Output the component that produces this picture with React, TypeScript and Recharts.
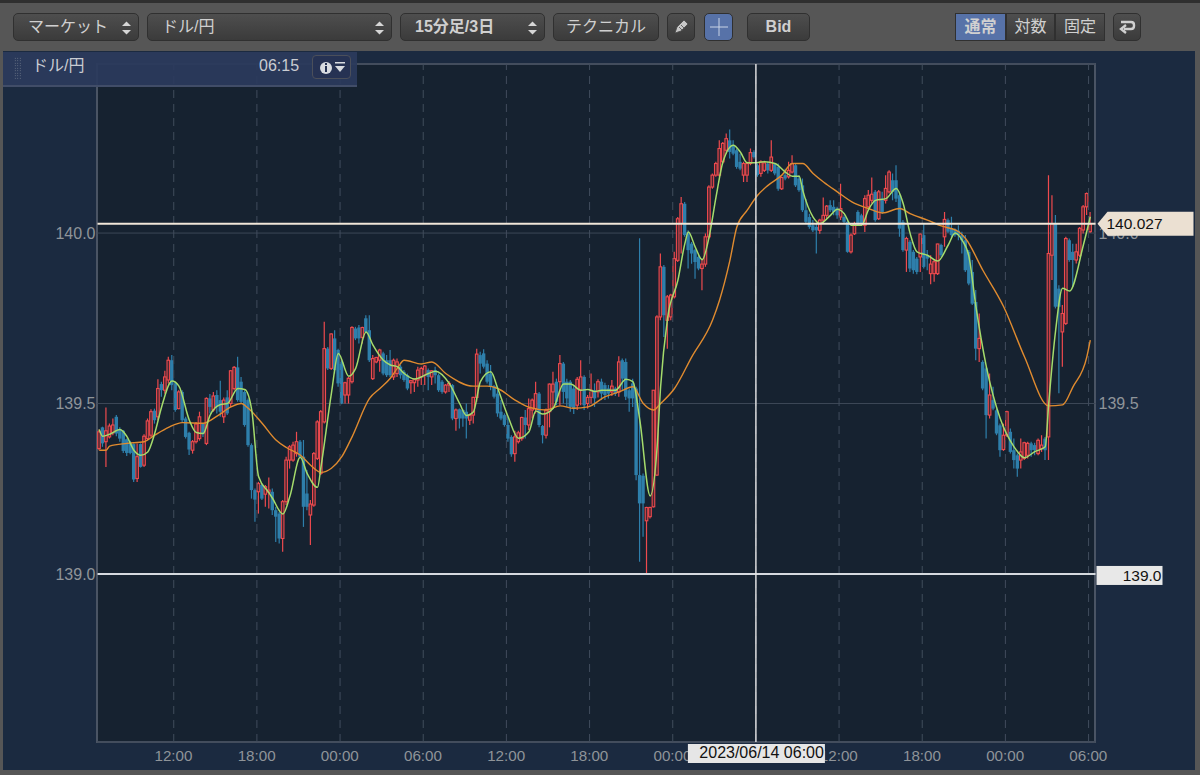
import React from "react";
import {
  ComposedChart,
  Bar,
  Line,
  XAxis,
  YAxis,
  CartesianGrid,
  ReferenceLine,
} from "recharts";

const opens = [
  139.368, 139.430, 139.388, 139.402, 139.414, 139.461, 139.424, 139.420, 139.395, 139.385,
  139.381, 139.280, 139.381, 139.319, 139.397, 139.407, 139.479, 139.461, 139.557, 139.539,
  139.569, 139.627, 139.559, 139.485, 139.534, 139.456, 139.414, 139.363, 139.388, 139.397,
  139.440, 139.383, 139.515, 139.481, 139.525, 139.510, 139.461, 139.518, 139.500, 139.544,
  139.606, 139.564, 139.534, 139.510, 139.378, 139.246, 139.241, 139.261, 139.234, 139.240,
  139.241, 139.187, 139.177, 139.104, 139.212, 139.334, 139.334, 139.353, 139.388, 139.344,
  139.236, 139.173, 139.202, 139.339, 139.295, 139.446, 139.661, 139.603, 139.691, 139.657,
  139.622, 139.525, 139.525, 139.564, 139.720, 139.723, 139.694, 139.750, 139.715, 139.573,
  139.622, 139.627, 139.647, 139.627, 139.627, 139.578, 139.588, 139.608, 139.593, 139.583,
  139.561, 139.561, 139.569, 139.578, 139.583, 139.598, 139.578, 139.598, 139.583, 139.564,
  139.534, 139.554, 139.554, 139.456, 139.483, 139.481, 139.476, 139.451, 139.466, 139.518,
  139.642, 139.647, 139.617, 139.588, 139.551, 139.529, 139.476, 139.466, 139.437, 139.402,
  139.353, 139.388, 139.397, 139.459, 139.437, 139.481, 139.485, 139.529, 139.434, 139.407,
  139.476, 139.534, 139.564, 139.564, 139.617, 139.564, 139.564, 139.544, 139.495, 139.539,
  139.578, 139.500, 139.518, 139.539, 139.534, 139.564, 139.554, 139.544, 139.534, 139.544,
  139.534, 139.627, 139.622, 139.539, 139.559, 139.544, 139.290, 139.288, 139.156, 139.168,
  139.197, 139.290, 139.754, 139.901, 139.744, 139.754, 139.813, 139.920, 140.028, 140.086,
  140.003, 139.969, 139.950, 139.930, 139.896, 139.909, 139.989, 140.135, 140.170, 140.170,
  140.209, 140.243, 140.272, 140.258, 140.243, 140.209, 140.170, 140.170, 140.204, 140.238,
  140.199, 140.175, 140.184, 140.204, 140.184, 140.202, 140.194, 140.130, 140.170, 140.165,
  140.179, 140.199, 140.160, 140.140, 140.067, 140.047, 140.023, 140.018, 140.008, 140.038,
  140.052, 140.082, 140.077, 140.072, 140.047, 140.047, 140.033, 139.945, 139.998, 140.062,
  140.052, 140.023, 140.077, 140.096, 140.121, 140.042, 140.101, 140.096, 140.121, 140.155,
  140.155, 140.111, 140.033, 139.950, 139.974, 139.945, 139.925, 139.930, 139.994, 139.935,
  139.881, 139.881, 139.881, 139.965, 139.989, 140.038, 140.014, 140.011, 140.007, 139.994,
  139.979, 139.945, 139.886, 139.798, 139.661, 139.622, 139.603, 139.466, 139.510, 139.480,
  139.436, 139.365, 139.407, 139.417, 139.363, 139.348, 139.334, 139.339, 139.348, 139.383,
  139.378, 139.353, 139.368, 139.397, 139.402, 139.935, 140.028, 139.837, 139.710, 139.735,
  139.979, 139.945, 139.921, 139.935, 140.009, 140.077, 140.004,
];

const highs = [
  139.424, 139.432, 139.488, 139.441, 139.456, 139.466, 139.430, 139.422, 139.397, 139.391,
  139.383, 139.383, 139.383, 139.410, 139.456, 139.483, 139.485, 139.571, 139.564, 139.596,
  139.637, 139.642, 139.564, 139.539, 139.539, 139.461, 139.417, 139.393, 139.446, 139.476,
  139.443, 139.518, 139.528, 139.534, 139.539, 139.567, 139.518, 139.539, 139.598, 139.610,
  139.637, 139.578, 139.539, 139.515, 139.383, 139.251, 139.270, 139.265, 139.261, 139.283,
  139.251, 139.197, 139.182, 139.217, 139.344, 139.378, 139.388, 139.417, 139.393, 139.393,
  139.305, 139.217, 139.358, 139.451, 139.481, 139.740, 139.666, 139.706, 139.715, 139.661,
  139.627, 139.564, 139.578, 139.727, 139.725, 139.730, 139.725, 139.759, 139.759, 139.642,
  139.637, 139.661, 139.652, 139.642, 139.657, 139.632, 139.632, 139.613, 139.598, 139.588,
  139.569, 139.573, 139.608, 139.608, 139.613, 139.603, 139.598, 139.608, 139.588, 139.569,
  139.557, 139.566, 139.557, 139.485, 139.485, 139.483, 139.500, 139.471, 139.520, 139.661,
  139.652, 139.659, 139.627, 139.613, 139.554, 139.539, 139.510, 139.471, 139.461, 139.407,
  139.420, 139.420, 139.461, 139.481, 139.515, 139.515, 139.564, 139.534, 139.437, 139.485,
  139.559, 139.593, 139.573, 139.642, 139.622, 139.573, 139.569, 139.554, 139.578, 139.627,
  139.583, 139.525, 139.588, 139.559, 139.571, 139.573, 139.561, 139.554, 139.569, 139.549,
  139.639, 139.632, 139.632, 139.544, 139.573, 139.549, 139.985, 139.295, 139.197, 139.197,
  139.539, 139.759, 139.940, 139.906, 139.818, 139.822, 139.945, 140.047, 140.106, 140.091,
  140.008, 139.974, 139.954, 139.935, 139.925, 139.999, 140.140, 140.175, 140.209, 140.272,
  140.267, 140.292, 140.304, 140.272, 140.248, 140.233, 140.209, 140.209, 140.248, 140.243,
  140.204, 140.214, 140.212, 140.209, 140.272, 140.204, 140.204, 140.165, 140.189, 140.209,
  140.228, 140.204, 140.170, 140.160, 140.101, 140.057, 140.038, 140.028, 140.042, 140.104,
  140.082, 140.096, 140.096, 140.077, 140.145, 140.052, 140.042, 139.999, 140.033, 140.067,
  140.057, 140.111, 140.126, 140.163, 140.126, 140.126, 140.121, 140.170, 140.184, 140.175,
  140.199, 140.121, 140.038, 139.989, 139.979, 139.950, 139.930, 139.999, 140.028, 139.950,
  139.935, 139.921, 139.969, 139.969, 140.062, 140.043, 140.048, 140.014, 140.023, 140.004,
  139.994, 139.950, 139.921, 139.833, 139.764, 139.627, 139.608, 139.588, 139.549, 139.485,
  139.441, 139.441, 139.479, 139.427, 139.397, 139.353, 139.397, 139.388, 139.388, 139.388,
  139.385, 139.397, 139.407, 139.402, 140.170, 140.111, 140.053, 139.847, 139.789, 139.989,
  139.984, 139.969, 139.969, 140.018, 140.082, 140.119, 140.062,
];

const lows = [
  139.363, 139.373, 139.314, 139.397, 139.407, 139.404, 139.388, 139.355, 139.346, 139.351,
  139.270, 139.270, 139.312, 139.314, 139.393, 139.402, 139.441, 139.451, 139.520, 139.529,
  139.559, 139.539, 139.476, 139.483, 139.446, 139.397, 139.349, 139.353, 139.383, 139.391,
  139.402, 139.378, 139.471, 139.476, 139.471, 139.461, 139.443, 139.466, 139.490, 139.539,
  139.505, 139.500, 139.432, 139.373, 139.221, 139.153, 139.177, 139.217, 139.197, 139.192,
  139.173, 139.094, 139.089, 139.065, 139.202, 139.309, 139.329, 139.344, 139.339, 139.138,
  139.187, 139.085, 139.197, 139.334, 139.290, 139.441, 139.598, 139.598, 139.588, 139.549,
  139.498, 139.500, 139.500, 139.559, 139.686, 139.676, 139.676, 139.706, 139.622, 139.569,
  139.618, 139.593, 139.583, 139.578, 139.578, 139.569, 139.578, 139.573, 139.564, 139.539,
  139.529, 139.534, 139.549, 139.554, 139.554, 139.539, 139.554, 139.559, 139.534, 139.529,
  139.529, 139.534, 139.451, 139.420, 139.427, 139.432, 139.397, 139.437, 139.441, 139.505,
  139.588, 139.603, 139.559, 139.539, 139.515, 139.461, 139.451, 139.432, 139.388, 139.344,
  139.329, 139.383, 139.391, 139.397, 139.422, 139.456, 139.471, 139.430, 139.383, 139.397,
  139.430, 139.485, 139.495, 139.495, 139.500, 139.490, 139.476, 139.469, 139.481, 139.495,
  139.481, 139.485, 139.500, 139.490, 139.518, 139.510, 139.510, 139.515, 139.522, 139.522,
  139.520, 139.539, 139.510, 139.476, 139.490, 139.275, 139.036, 139.109, 139.000, 139.163,
  139.195, 139.287, 139.744, 139.695, 139.661, 139.744, 139.808, 139.915, 139.940, 139.989,
  139.896, 139.910, 139.866, 139.891, 139.832, 139.901, 139.984, 140.130, 140.165, 140.165,
  140.204, 140.233, 140.219, 140.228, 140.189, 140.184, 140.150, 140.150, 140.199, 140.219,
  140.165, 140.165, 140.179, 140.175, 140.179, 140.170, 140.124, 140.126, 140.155, 140.160,
  140.175, 140.135, 140.121, 140.062, 140.028, 140.013, 140.003, 139.940, 139.998, 140.028,
  140.042, 140.062, 140.052, 140.042, 140.038, 140.028, 139.942, 139.940, 139.994, 140.023,
  140.023, 140.003, 140.067, 140.087, 140.033, 140.038, 140.057, 140.087, 140.116, 140.096,
  140.091, 139.989, 139.945, 139.886, 139.886, 139.881, 139.879, 139.886, 139.896, 139.891,
  139.850, 139.857, 139.877, 139.930, 139.960, 140.000, 139.984, 139.989, 139.979, 139.940,
  139.886, 139.847, 139.789, 139.627, 139.622, 139.539, 139.397, 139.456, 139.480, 139.407,
  139.344, 139.361, 139.402, 139.353, 139.309, 139.285, 139.309, 139.334, 139.339, 139.344,
  139.348, 139.348, 139.358, 139.334, 139.334, 139.862, 139.779, 139.530, 139.608, 139.730,
  139.916, 139.842, 139.911, 139.930, 139.999, 140.053, 140.001,
];

const closes = [
  139.417, 139.383, 139.420, 139.434, 139.437, 139.412, 139.397, 139.361, 139.355, 139.355,
  139.277, 139.344, 139.314, 139.404, 139.449, 139.476, 139.451, 139.544, 139.539, 139.578,
  139.627, 139.554, 139.481, 139.534, 139.451, 139.402, 139.365, 139.388, 139.440, 139.461,
  139.410, 139.515, 139.490, 139.522, 139.490, 139.476, 139.510, 139.471, 139.596, 139.606,
  139.510, 139.505, 139.437, 139.378, 139.246, 139.218, 139.265, 139.221, 139.256, 139.246,
  139.187, 139.168, 139.104, 139.212, 139.334, 139.373, 139.378, 139.388, 139.344, 139.197,
  139.197, 139.205, 139.353, 139.446, 139.476, 139.661, 139.603, 139.704, 139.598, 139.559,
  139.500, 139.561, 139.574, 139.723, 139.691, 139.691, 139.723, 139.710, 139.627, 139.632,
  139.635, 139.657, 139.588, 139.583, 139.583, 139.627, 139.622, 139.583, 139.569, 139.544,
  139.567, 139.571, 139.598, 139.603, 139.610, 139.578, 139.596, 139.583, 139.539, 139.534,
  139.554, 139.559, 139.456, 139.481, 139.456, 139.456, 139.456, 139.466, 139.518, 139.645,
  139.617, 139.608, 139.564, 139.549, 139.520, 139.471, 139.456, 139.437, 139.397, 139.351,
  139.402, 139.414, 139.459, 139.437, 139.485, 139.510, 139.529, 139.437, 139.407, 139.481,
  139.557, 139.557, 139.505, 139.617, 139.534, 139.515, 139.490, 139.485, 139.571, 139.578,
  139.495, 139.518, 139.539, 139.515, 139.564, 139.529, 139.525, 139.529, 139.551, 139.529,
  139.622, 139.573, 139.520, 139.515, 139.515, 139.290, 139.207, 139.207, 139.195, 139.195,
  139.539, 139.754, 139.901, 139.759, 139.813, 139.818, 139.925, 140.042, 140.086, 139.994,
  139.950, 139.940, 139.915, 139.896, 139.909, 139.989, 140.135, 140.170, 140.204, 140.248,
  140.263, 140.277, 140.238, 140.233, 140.194, 140.189, 140.204, 140.204, 140.236, 140.223,
  140.170, 140.209, 140.206, 140.184, 140.223, 140.175, 140.130, 140.163, 140.160, 140.184,
  140.204, 140.140, 140.126, 140.067, 140.033, 140.018, 140.008, 140.008, 140.038, 140.052,
  140.079, 140.067, 140.062, 140.052, 140.072, 140.033, 139.945, 139.994, 140.028, 140.028,
  140.028, 140.101, 140.111, 140.114, 140.038, 140.121, 140.062, 140.131, 140.179, 140.121,
  140.101, 140.013, 139.950, 139.984, 139.896, 139.891, 139.886, 139.997, 139.901, 139.925,
  139.909, 139.916, 139.968, 139.935, 140.040, 140.004, 139.994, 139.994, 139.994, 139.979,
  139.891, 139.852, 139.793, 139.661, 139.691, 139.544, 139.466, 139.525, 139.485, 139.412,
  139.363, 139.407, 139.476, 139.358, 139.334, 139.309, 139.358, 139.385, 139.383, 139.363,
  139.363, 139.392, 139.378, 139.363, 139.940, 140.028, 139.784, 139.784, 139.764, 139.984,
  139.921, 139.921, 139.945, 140.014, 140.077, 140.116, 140.027,
];

// moving averages, read at the points where the curves bend: [candle index, price]
const fastMa = [
  [0, 139.424], [1, 139.404], [3, 139.41], [6, 139.424], [8, 139.403], [10, 139.363], [12, 139.348],
  [14, 139.358], [16, 139.412], [18, 139.49], [21, 139.566], [23, 139.551], [26, 139.451], [28, 139.415],
  [30, 139.412], [32, 139.466], [35, 139.497], [37, 139.5], [40, 139.544], [42, 139.541], [44, 139.481],
  [46, 139.285], [49, 139.238], [50, 139.222], [53, 139.176], [55, 139.227], [58, 139.342], [60, 139.295],
  [63, 139.254], [64, 139.315], [67, 139.53], [69, 139.647], [72, 139.58], [74, 139.603], [77, 139.71],
  [79, 139.671], [82, 139.627], [84, 139.613], [86, 139.608], [88, 139.588], [91, 139.572], [95, 139.588],
  [97, 139.595], [101, 139.559], [104, 139.5], [106, 139.465], [108, 139.476], [110, 139.564], [113, 139.593],
  [115, 139.544], [118, 139.461], [121, 139.398], [124, 139.417], [126, 139.478], [128, 139.469], [131, 139.486],
  [134, 139.557], [136, 139.557], [139, 139.539], [141, 139.541], [143, 139.535], [145, 139.539], [149, 139.539],
  [152, 139.571], [154, 139.564], [156, 139.451], [159, 139.229], [161, 139.373], [162, 139.549], [164, 139.75],
  [167, 139.862], [169, 139.969], [170, 140.003], [172, 139.959], [174, 139.922], [176, 139.989], [178, 140.106],
  [180, 140.209], [183, 140.258], [185, 140.238], [187, 140.206], [189, 140.206], [192, 140.209], [195, 140.204],
  [198, 140.179], [200, 140.167], [202, 140.167], [203, 140.126], [206, 140.047], [208, 140.028], [211, 140.052],
  [213, 140.07], [215, 140.057], [217, 140.023], [220, 140.023], [222, 140.069], [224, 140.096], [227, 140.101],
  [230, 140.131], [232, 140.087], [234, 139.999], [236, 139.945], [239, 139.935], [242, 139.918], [245, 139.965],
  [247, 140.0], [249, 139.979], [251, 139.93], [253, 139.784], [256, 139.608], [260, 139.456], [264, 139.373],
  [267, 139.341], [270, 139.359], [273, 139.373], [274, 139.5], [276, 139.715], [278, 139.838], [280, 139.83],
  [284, 139.965], [286, 140.048],
];

const slowMa = [
  [0, 139.363], [2, 139.363], [3, 139.375], [8, 139.383], [13, 139.388], [16, 139.407], [20, 139.43],
  [24, 139.444], [30, 139.442], [34, 139.463], [38, 139.49], [41, 139.5], [43, 139.486], [47, 139.442],
  [51, 139.393], [54, 139.371], [58, 139.349], [61, 139.319], [64, 139.298], [67, 139.31], [70, 139.344],
  [73, 139.403], [78, 139.515], [81, 139.544], [84, 139.574], [86, 139.603], [88, 139.627], [93, 139.616],
  [96, 139.622], [100, 139.588], [108, 139.551], [112, 139.551], [115, 139.544], [120, 139.51], [124, 139.489],
  [129, 139.481], [133, 139.493], [137, 139.486], [141, 139.49], [146, 139.52], [150, 139.534], [154, 139.549],
  [157, 139.5], [160, 139.481], [162, 139.5], [166, 139.544], [171, 139.637], [177, 139.745], [179, 139.803],
  [182, 139.92], [184, 140.018], [187, 140.067], [190, 140.111], [193, 140.14], [197, 140.17], [200, 140.204],
  [203, 140.204], [206, 140.175], [209, 140.15], [213, 140.121], [218, 140.087], [222, 140.072], [226, 140.059],
  [231, 140.072], [234, 140.057], [239, 140.038], [243, 140.021], [248, 140.004], [250, 139.984], [255, 139.891],
  [261, 139.784], [267, 139.637], [274, 139.493], [278, 139.496], [281, 139.549], [285, 139.637], [286, 139.686],
];

const timeTicks = [
  "06/12 12:00", "06/12 18:00", "06/13 00:00", "06/13 06:00", "06/13 12:00", "06/13 18:00",
  "06/14 00:00", "06/14 06:00", "06/14 12:00", "06/14 18:00", "06/15 00:00", "06/15 06:00",
];
const priceTicks = [139, 139.5, 140];
const priceDomain = [138.507, 140.496];
const lastPrice = 140.027;
const markedPrice = 139;
const crosshairTime = "06/14 06:00";

const pad = (n: number) => String(n).padStart(2, "0");

// 288 slots on the time axis, the last one stays empty
const categories: string[] = [];
for (let i = 0; i < 288; i++) {
  const m = 6 * 60 + 30 + i * 15;
  const day = 12 + Math.floor(m / 1440);
  categories.push(`06/${day} ${pad(Math.floor(m / 60) % 24)}:${pad(m % 60)}`);
}

const fastByIndex = new Map(fastMa.map(([i, v]) => [i, v]));
const slowByIndex = new Map(slowMa.map(([i, v]) => [i, v]));

const chartData = categories.map((name, i) => ({
  name,
  open: opens[i],
  close: closes[i],
  high: highs[i],
  low: lows[i],
  range: i < opens.length ? [lows[i], highs[i]] : null,
  fast: fastByIndex.get(i) ?? null,
  slow: slowByIndex.get(i) ?? null,
}));

const UP = "#ee4a4e";
const DOWN = "#2e7fab";
const TEXT = "#8f9499";
const FONT = "'Liberation Sans', 'Noto Sans CJK JP', sans-serif";

const Candle = (props: any) => {
  const { x, y, width, height, payload } = props;
  if (!payload || payload.range == null || !height) return null;
  const { open, close, high, low } = payload;
  const perUnit = height / (high - low);
  const up = close >= open;
  const color = up ? UP : DOWN;
  const top = y + (high - Math.max(open, close)) * perUnit;
  const bottom = y + (high - Math.min(open, close)) * perUnit;
  const cx = x + width / 2;
  return (
    <g>
      <line x1={cx} x2={cx} y1={y} y2={y + height} stroke={color} strokeWidth={1.2} />
      {up ? (
        <rect x={cx - 1.3} y={top} width={2.6} height={Math.max(bottom - top, 1)} fill="#4a2630" stroke={color} strokeWidth={1.1} />
      ) : (
        <rect x={cx - 1.7} y={top} width={3.4} height={Math.max(bottom - top, 1)} fill={color} />
      )}
    </g>
  );
};

const LastPriceTag = ({ viewBox }: any) => {
  const y = viewBox.y;
  const x = viewBox.x + viewBox.width + 2;
  return (
    <g>
      <polygon
        points={`${x},${y} ${x + 10},${y - 12} ${x + 96},${y - 12} ${x + 96},${y + 12} ${x + 10},${y + 12}`}
        fill="#ebe0d2"
      />
      <text x={x + 9} y={y + 5.5} fontSize={15.5} fill="#111" fontFamily={FONT}>
        {lastPrice.toFixed(3)}
      </text>
    </g>
  );
};

const MarkedPriceTag = ({ viewBox }: any) => {
  const y = viewBox.y;
  const x = viewBox.x + viewBox.width + 1;
  return (
    <g>
      <rect x={x} y={y - 8} width={66} height={19} fill="#e8e8e8" />
      <text x={x + 65} y={y + 7} fontSize={15.5} fill="#111" textAnchor="end" fontFamily={FONT}>
        {markedPrice.toFixed(1)}
      </text>
    </g>
  );
};

const CrosshairTag = ({ viewBox }: any) => {
  const x = viewBox.x;
  const y = viewBox.y + viewBox.height;
  return (
    <g>
      <rect x={x - 68} y={y + 2} width={137} height={19} fill="#e6e6e6" />
      <text x={x + 68} y={y + 16} fontSize={16} fill="#111" textAnchor="end" fontFamily={FONT}>
        2023/06/14 06:00
      </text>
    </g>
  );
};

const Updown = () => (
  <svg width={9} height={16} style={{ position: "absolute", right: 7, top: 6 }}>
    <polygon points="0,6 4.5,1.5 9,6" fill="#d6d6d6" />
    <polygon points="0,10 4.5,14.5 9,10" fill="#d6d6d6" />
  </svg>
);

const Btn = ({ left, width, active, bold, flat, children }: any) => (
  <div
    style={{
      position: "absolute",
      left,
      top: 13,
      width,
      height: 28,
      boxSizing: "border-box",
      border: "1px solid #303030",
      borderRadius: flat ? 0 : 5,
      background: active ? "#5772a8" : "linear-gradient(#4e4e4e, #3b3b3b)",
      color: "#d0d0d0",
      fontSize: 16,
      fontWeight: bold ? "bold" : "normal",
      lineHeight: "26px",
      textAlign: "center",
    }}
  >
    {children}
  </div>
);

const Select = ({ left, width, bold, children }: any) => (
  <Btn left={left} width={width} bold={bold}>
    <span style={{ position: "absolute", left: 14 }}>{children}</span>
    <Updown />
  </Btn>
);

const Toolbar = () => (
  <>
    <Select left={13} width={126}>マーケット</Select>
    <Select left={147} width={245}>ドル/円</Select>
    <Select left={400} width={145} bold>15分足/3日</Select>
    <Btn left={553} width={106}>テクニカル</Btn>
    <Btn left={667} width={28}>
      <svg width={16} height={16} style={{ marginTop: 5 }}>
        <path d="M2 14 L4 8 L11 1 L15 5 L8 12 Z M6 8 L10 12 M8 6 L12 10" fill="#c8c8c8" stroke="#4a4a4a" strokeWidth={0.8} />
      </svg>
    </Btn>
    <Btn left={704} width={29} active>
      <svg width={20} height={20} style={{ marginTop: 3 }}>
        <path d="M10 1 V19 M1 10 H19" stroke="#c9d3e6" strokeWidth={1} />
      </svg>
    </Btn>
    <Btn left={747} width={63} bold>Bid</Btn>
    <Btn left={955} width={51} active flat bold>通常</Btn>
    <Btn left={1006} width={49} flat>対数</Btn>
    <Btn left={1055} width={50} flat>固定</Btn>
    <Btn left={1113} width={28}>
      <svg width={18} height={16} style={{ marginTop: 5 }}>
        <path d="M3 3 H13 Q16 3 16 6 V7 Q16 10 13 10 H6 M8 6 L3 10 L8 14" stroke="#d0d0d0" strokeWidth={2.4} fill="none" />
      </svg>
    </Btn>
  </>
);

const InfoPanel = () => (
  <div
    style={{
      position: "absolute",
      left: 3,
      top: 52,
      width: 354,
      height: 35,
      background: "rgba(43,58,92,0.93)",
      borderBottom: "2px solid #414d68",
      boxSizing: "border-box",
      color: "#c9ccd2",
      fontSize: 16,
    }}
  >
    <div
      style={{
        position: "absolute",
        left: 11,
        top: 5,
        width: 7,
        height: 22,
        backgroundImage: "radial-gradient(#77808f 40%, transparent 45%)",
        backgroundSize: "2.5px 2.5px",
      }}
    />
    <span style={{ position: "absolute", left: 29, top: 2, lineHeight: "24px" }}>ドル/円</span>
    <span style={{ position: "absolute", left: 256, top: 2, lineHeight: "24px" }}>06:15</span>
    <div
      style={{
        position: "absolute",
        left: 309,
        top: 3,
        width: 39,
        height: 24,
        boxSizing: "border-box",
        border: "1px solid #4b4f5a",
        borderRadius: 4,
        background: "#263253",
      }}
    >
      <svg width={37} height={22}>
        <circle cx={13} cy={12} r={6} fill="#d8dbe0" />
        <rect x={12} y={10} width={2} height={6} fill="#263253" />
        <rect x={12} y={7} width={2} height={2} fill="#263253" />
        <rect x={22} y={6} width={10} height={1.5} fill="#d8dbe0" />
        <polygon points="22,10 32,10 27,16" fill="#d8dbe0" />
      </svg>
    </div>
  </div>
);

const layer: React.CSSProperties = { position: "absolute", left: 0, top: 0 };

export default function App() {
  return (
    <div
      style={{
        position: "absolute",
        left: 0,
        top: 0,
        width: 1200,
        height: 775,
        overflow: "hidden",
        background: "#565656",
        fontFamily: FONT,
      }}
    >
      <div style={{ position: "absolute", left: 0, top: 0, width: 1200, height: 3, background: "#2f2f2f" }} />
      <div style={{ position: "absolute", left: 3, top: 51, width: 1192, height: 719, background: "#1b2a40" }} />
      <div
        style={{
          position: "absolute",
          left: 96,
          top: 63,
          width: 1000,
          height: 680,
          boxSizing: "border-box",
          border: "2px solid #4a5464",
          background: "#162230",
        }}
      />
      <Toolbar />
      <div style={layer}>
        <ComposedChart
          width={1200}
          height={775}
          data={chartData}
          barCategoryGap={0}
          margin={{ top: 64, right: 0, bottom: 0, left: 0 }}
        >
          <CartesianGrid yAxisId="left" vertical={false} stroke="#3c4756" />
          <XAxis
            dataKey="name"
            ticks={timeTicks}
            interval={0}
            height={33}
            axisLine={false}
            tickLine={false}
            tick={{ fill: TEXT, fontSize: 15.2, fontFamily: FONT, dx: -2 }}
            tickFormatter={(v: string) => v.slice(6)}
          />
          <YAxis
            yAxisId="left"
            width={97.5}
            type="number"
            domain={priceDomain}
            allowDataOverflow
            ticks={priceTicks}
            axisLine={false}
            tickLine={false}
            tick={{ fill: TEXT, fontSize: 16, fontFamily: FONT, dx: 6 }}
            tickFormatter={(v: number) => v.toFixed(1)}
          />
          <YAxis
            yAxisId="right"
            orientation="right"
            width={104.5}
            type="number"
            domain={priceDomain}
            allowDataOverflow
            ticks={priceTicks}
            axisLine={false}
            tickLine={false}
            tick={{ fill: TEXT, fontSize: 16, fontFamily: FONT, dx: -5 }}
            tickFormatter={(v: number) => v.toFixed(1)}
          />
          {timeTicks.map((t) => (
            <ReferenceLine
              key={t}
              yAxisId="left"
              x={t}
              position="start"
              stroke="#414c5c"
              strokeDasharray="8 6"
            />
          ))}
          <Bar yAxisId="left" dataKey="range" shape={Candle} isAnimationActive={false} />
          <Line yAxisId="left" dataKey="slow" type="monotone" connectNulls dot={false} stroke="#e08b2f" strokeWidth={1.4} isAnimationActive={false} />
          <Line yAxisId="left" dataKey="fast" type="monotone" connectNulls dot={false} stroke="#a5dc6c" strokeWidth={1.5} isAnimationActive={false} />
        </ComposedChart>
      </div>
      {/* second layer so the price and time tags sit over the axis texts, like the original */}
      <div style={layer}>
        <ComposedChart
          width={1200}
          height={775}
          data={chartData}
          barCategoryGap={0}
          margin={{ top: 64, right: 104.5, bottom: 33, left: 97.5 }}
        >
          <XAxis dataKey="name" hide />
          <YAxis yAxisId="left" hide type="number" domain={priceDomain} allowDataOverflow />
          <Bar yAxisId="left" dataKey="none" isAnimationActive={false} />
          <ReferenceLine yAxisId="left" y={markedPrice} stroke="#d5d9de" strokeWidth={2} label={<MarkedPriceTag />} />
          <ReferenceLine yAxisId="left" y={lastPrice} stroke="#f1e7d8" strokeWidth={2} label={<LastPriceTag />} />
          <ReferenceLine yAxisId="left" x={"06/14 06:00"} position="start" stroke="#e6e6e6" strokeWidth={1.4} label={<CrosshairTag />} />
        </ComposedChart>
      </div>
      <InfoPanel />
    </div>
  );
}
